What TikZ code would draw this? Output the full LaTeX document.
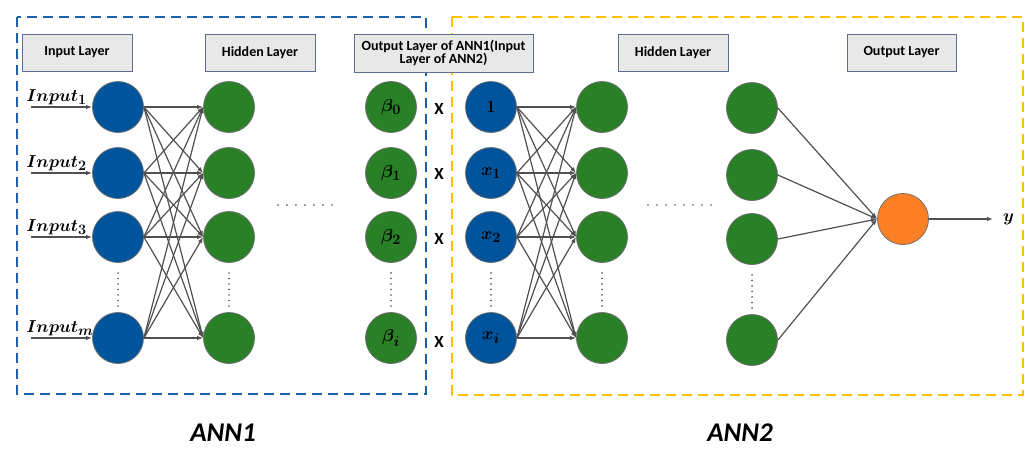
\documentclass[tikz,border=0pt]{standalone}
\usepackage{amsmath}
\usepackage{bm}
\usepackage{fontspec}
\setmainfont{Carlito}
\usetikzlibrary{arrows.meta}

\definecolor{nblue}{RGB}{0,84,156}
\definecolor{ngreen}{RGB}{41,128,38}
\definecolor{norange}{RGB}{255,127,36}
\definecolor{nedge}{RGB}{110,110,110}
\definecolor{wire}{RGB}{80,80,80}
\definecolor{frameblue}{RGB}{32,96,168}
\definecolor{frameyellow}{RGB}{255,192,0}
\definecolor{boxfill}{RGB}{232,232,232}
\definecolor{boxedge}{RGB}{95,110,140}

\tikzset{
  neuron/.style={circle, minimum size=51pt, inner sep=0pt, draw=nedge, line width=0.8pt,
    font=\fontsize{19}{21}\selectfont},
  inneuron/.style={neuron, fill=nblue},
  hidneuron/.style={neuron, fill=ngreen},
  outneuron/.style={neuron, fill=norange},
  layerbox/.style={draw=boxedge, fill=boxfill, line width=0.9pt, inner sep=0pt,
    minimum height=37pt, font=\bfseries\fontsize{14}{15}\selectfont, align=center},
  wirearrow/.style={draw=wire, line width=1.2pt, -{Latex[length=6pt,width=4.5pt]}},
  frame/.style={line width=2pt, dash pattern=on 10pt off 6pt},
  mathlbl/.style={font=\fontsize{19}{21}\selectfont, inner sep=0pt},
  timeslbl/.style={font=\bfseries\fontsize{17}{18}\selectfont, inner sep=0pt},
  vdots/.style={line width=1.8pt, line cap=round, dash pattern=on 0pt off 5.5pt, draw=wire},
  hdots/.style={line width=1.8pt, line cap=round, dash pattern=on 0pt off 9pt, draw=wire},
  title/.style={font=\bfseries\itshape\fontsize{27}{29}\selectfont, inner sep=0pt}
}

\begin{document}
\begin{tikzpicture}[x=1pt, y=-1pt]
\useasboundingbox (0,0) rectangle (1029,450);

% dashed frames for the two networks
\draw[frame, draw=frameblue] (17,17) rectangle (426,394);
\draw[frame, draw=frameyellow] (452,17) rectangle (1023,395);

% layer captions
\node[layerbox, minimum width=110pt] (capin) at (77,52.5) {Input Layer};
\node[layerbox, minimum width=110pt] (caph1) at (260,52.5) {Hidden Layer};
\node[layerbox, minimum width=179pt, minimum height=38pt] (capmid) at (443.5,53)
  {Output Layer of ANN1(Input\\[-2pt]Layer of ANN2)};
\node[layerbox, minimum width=110pt] (caph2) at (673,52.5) {Hidden Layer};
\node[layerbox, minimum width=109pt] (capout) at (901.5,52.5) {Output Layer};

% ANN1 input layer
\node[inneuron] (i1) at (118,107) {};
\node[inneuron] (i2) at (118,173) {};
\node[inneuron] (i3) at (118,237) {};
\node[inneuron] (im) at (118,338) {};

% ANN1 hidden layer
\node[hidneuron] (h1) at (229,107) {};
\node[hidneuron] (h2) at (229,173) {};
\node[hidneuron] (h3) at (229,237) {};
\node[hidneuron] (hm) at (229,338) {};

% ANN1 outputs
\node[hidneuron] (b0) at (391,107) {$\bm{\beta_0}$};
\node[hidneuron] (b1) at (391,173) {$\bm{\beta_1}$};
\node[hidneuron] (b2) at (391,237) {$\bm{\beta_2}$};
\node[hidneuron] (bi) at (391,338) {$\bm{\beta_i}$};

% multiplication signs
\node[timeslbl] (t0) at (439,109) {X};
\node[timeslbl] (t1) at (439,174) {X};
\node[timeslbl] (t2) at (439,239) {X};
\node[timeslbl] (ti) at (439,342) {X};

% ANN2 input layer
\node[inneuron] (x0) at (491,107) {$\bm{1}$};
\node[inneuron] (x1) at (491,173) {$\bm{x_1}$};
\node[inneuron] (x2) at (491,237) {$\bm{x_2}$};
\node[inneuron] (xi) at (491,338) {$\bm{x_i}$};

% ANN2 first hidden layer
\node[hidneuron] (g1) at (602,107) {};
\node[hidneuron] (g2) at (602,173) {};
\node[hidneuron] (g3) at (602,237) {};
\node[hidneuron] (gm) at (602,338) {};

% ANN2 last hidden layer
\node[hidneuron] (k1) at (752,108) {};
\node[hidneuron] (k2) at (752,175) {};
\node[hidneuron] (k3) at (752,239) {};
\node[hidneuron] (km) at (752,340) {};

% ANN2 output neuron
\node[outneuron] (o) at (903,219) {};
\node[mathlbl, anchor=west] (ylbl) at (1003,219) {$\bm{y}$};

% input signals
\foreach \n/\s in {i1/1, i2/2, i3/3, im/m} {
  \coordinate (src\n) at ([xshift=-61pt]\n.west);
  \draw[wirearrow] (src\n) -- (\n.west);
  \node[mathlbl, anchor=south west] (lbl\n) at ([xshift=-5pt,yshift=2pt]src\n) {$\bm{Input_{\s}}$};
}

% fully connected wiring
\foreach \a in {i1,i2,i3,im} \foreach \b in {h1,h2,h3,hm}
  \draw[wirearrow] (\a.east) -- (\b.west);
\foreach \a in {x0,x1,x2,xi} \foreach \b in {g1,g2,g3,gm}
  \draw[wirearrow] (\a.east) -- (\b.west);
\foreach \a in {k1,k2,k3,km}
  \draw[wirearrow] (\a.east) -- (o.west);
\draw[wirearrow] (o.east) -- ([xshift=-10pt]ylbl.west);

% elided neurons
\foreach \a/\b in {i3/im, h3/hm, b2/bi, x2/xi, g3/gm, k3/km}
  \draw[vdots] ([yshift=-10pt]\a.south) -- ([yshift=4pt]\b.north);
\draw[hdots] ([xshift=23pt,yshift=32pt]h3.east) -- ([xshift=-25pt,yshift=32pt]b2.west);
\draw[hdots] ([xshift=20pt,yshift=32pt]g3.east) -- ([xshift=-13pt,yshift=34pt]k3.west);

% network titles
\node[title] (ann1) at (223,433) {ANN1};
\node[title] (ann2) at (740,433) {ANN2};
\end{tikzpicture}
\end{document}
